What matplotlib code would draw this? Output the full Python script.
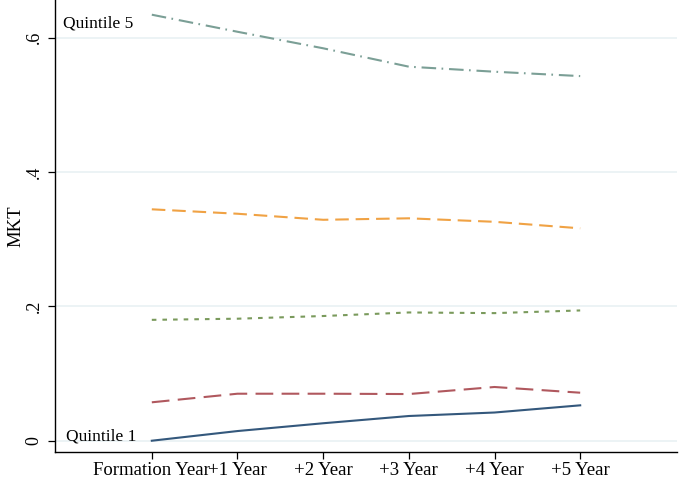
import numpy as np
import matplotlib
matplotlib.use('Agg')
import matplotlib.pyplot as plt

plt.rcParams['font.family'] = ['Liberation Serif', 'DejaVu Serif']

# average MKT loading by portfolio quintile, formation year and the five years after
periods = ['Formation Year', '+1 Year', '+2 Year', '+3 Year', '+4 Year', '+5 Year']
q1 = [0.000, 0.0144, 0.026, 0.0368, 0.042, 0.0527]
q2 = [0.0572, 0.070, 0.070, 0.0695, 0.080, 0.0715]
q3 = [0.180, 0.1817, 0.1857, 0.191, 0.190, 0.194]
q4 = [0.3446, 0.338, 0.329, 0.3312, 0.326, 0.3163]
q5 = [0.6344, 0.609, 0.5844, 0.557, 0.5495, 0.543]

yticks = [0, 0.2, 0.4, 0.6]
ytick_labels = ['0', '.2', '.4', '.6']

fig = plt.figure(figsize=(6.79, 4.78), dpi=100)
ax = fig.add_axes([55/679, 26/478, 622/679, 452/478])

x = np.arange(len(periods))
ax.plot(x, q1, color='#34587c', lw=1.5, linestyle='-')
ax.plot(x, q2, color='#b0585e', lw=1.5, linestyle=(0, (8.5, 4)))
ax.plot(x, q3, color='#7a9a5c', lw=1.5, linestyle=(0, (2.2, 2.9)))
ax.plot(x, q4, color='#f0a244', lw=1.5, linestyle=(0, (6.5, 3.3)))
ax.plot(x, q5, color='#7b9f96', lw=1.5, linestyle=(0, (7, 2.6, 0.8, 2.8)))

ax.text(-1.04, 0.6206, 'Quintile 5', fontsize=12.5, ha='left', va='center')
ax.text(-1.0, 0.007, 'Quintile 1', fontsize=12.5, ha='left', va='center')

ax.set_xlim(-1.13, 6.13)
ax.set_ylim(-0.0168, 0.6563)
ax.set_xticks(x)
ax.set_xticklabels(periods, fontsize=13.5)
ax.set_yticks(yticks)
ax.set_yticklabels(ytick_labels, fontsize=13, rotation=90, va='center')
ax.set_ylabel('MKT', fontsize=13.5, labelpad=1)

ax.grid(axis='y', color='#e9f1f4', lw=1.2)
ax.set_axisbelow(True)
for side in ['top', 'right']:
    ax.spines[side].set_visible(False)
for side in ['left', 'bottom']:
    ax.spines[side].set_linewidth(1.0)
ax.tick_params(axis='both', length=5, width=0.9, pad=4)
ax.tick_params(axis='x', pad=2.5)

fig.savefig('out.png', dpi=100)
